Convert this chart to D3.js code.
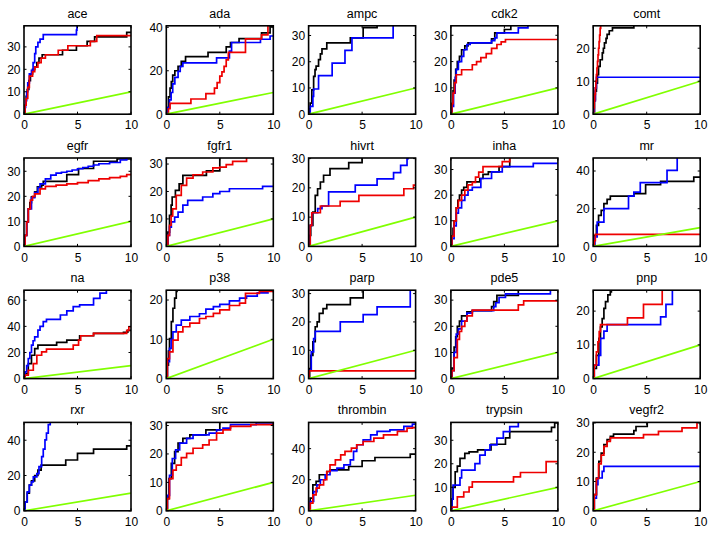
<!DOCTYPE html>
<html><head><meta charset="utf-8">
<script src="https://cdn.jsdelivr.net/npm/d3@7"></script>
<style>
html,body{margin:0;padding:0;background:#fff;}
svg text{font-family:"Liberation Sans",Arial,Helvetica,sans-serif;fill:#000;}
</style></head>
<body><svg id="c" width="714" height="534"></svg>
<script>
// ---- DATA ----
const panelNames = ["ace","ada","ampc","cdk2","comt","egfr","fgfr1","hivrt","inha","mr","na","p38","parp","pde5","pnp","rxr","src","thrombin","trypsin","vegfr2"];
const yMax = [39.4,40.7,33.7,33.6,26.8,35.3,32.2,30.2,34.5,46.9,67.7,22.5,31.2,33.8,26.2,50.1,31.1,56.9,37.6,30.2];
const yTicks = [[0,10,20,30],[0,20,40],[0,10,20,30],[0,10,20,30],[0,10,20],[0,10,20,30],[0,10,20,30],[0,10,20,30],[0,10,20,30],[0,20,40],[0,20,40,60],[0,10,20],[0,10,20,30],[0,10,20,30],[0,10,20],[0,20,40],[0,10,20,30],[0,20,40],[0,10,20,30],[0,10,20,30]];
const xTicks = [0,5,10];
const randomLine = [[0,0],[10,10]];

const ace_k = [[0,0],[0.1,4],[0.2,8],[0.3,11],[0.45,15],[0.6,18],[0.8,20],[1.0,21],[1.2,23],[1.4,25],[1.7,26.5],[3.6,28.5],[4.9,30.5],[5.9,32.5],[6.6,34.5],[9.6,36.5],[10,36.5]];
const ace_b = [[0,0],[0.08,3],[0.15,6],[0.25,10],[0.35,14],[0.5,18],[0.7,19.5],[0.85,23],[1.0,27],[1.1,30],[1.3,32],[1.5,33.5],[1.8,35.5],[4.9,37.5],[4.95,41],[10,41]];
const ace_r = [[0,0],[0.1,4],[0.2,7],[0.35,12],[0.5,17],[0.8,19],[1.0,21],[1.3,23],[1.6,25],[2.0,26.5],[3.2,28.5],[4.1,30.5],[6.2,32.5],[6.8,35],[10,35]];

const ada_k = [[0,0],[0.1,3],[0.2,8],[0.35,12],[0.47,15],[0.6,18],[0.8,20],[1.1,22],[1.4,24.3],[1.8,26.5],[3.9,28.5],[5.6,31],[6.0,33],[6.8,34.8],[8.9,37.4],[9.7,40.5],[10,40.5]];
const ada_b = [[0,0],[0.15,3],[0.3,6.6],[0.45,10],[0.6,14],[0.8,17],[1.1,19.7],[1.3,22],[1.55,23.6],[4.7,25.9],[5.9,29],[6.1,33],[8.8,34.5],[9.7,36],[10,36]];
const ada_r = [[0,0],[0.2,2.5],[0.35,5],[2.3,7],[3.7,9.5],[4.5,12],[4.75,14.5],[5.0,17.5],[5.2,19.5],[5.4,22],[5.6,25],[5.8,28.5],[7.4,34.7],[8.9,36.5],[9.5,41],[10,41]];

const ampc_k = [[0,0],[0.08,2],[0.15,4.2],[0.3,9.3],[0.47,14.4],[0.6,17],[0.7,18.3],[0.93,20.8],[1.1,23],[1.25,24.9],[1.7,27.2],[3.9,29.1],[5.1,33],[6.4,36],[10,36]];
const ampc_b = [[0,0],[0.15,3],[0.4,6.8],[0.47,9.6],[0.93,14.7],[2.2,19.5],[3.4,24.3],[4.05,29.1],[7.9,36],[10,36]];
const ampc_r = [];

const cdk2_k = [[0,0],[0.1,4],[0.2,9],[0.3,13],[0.45,17],[0.6,20],[0.8,22],[1.0,24.5],[1.3,26],[1.6,27.1],[3.8,28.6],[4.1,30.9],[5.0,32.2],[5.6,34],[10,34]];
const cdk2_b = [[0,0],[0.1,3],[0.25,8],[0.4,14],[0.5,17],[0.7,20],[1.0,22],[1.2,24.5],[1.5,26.5],[1.8,27.1],[3.8,28],[4.1,29],[4.3,30.9],[6.3,32.8],[7.2,34],[10,34]];
const cdk2_r = [[0,0],[0.1,4],[0.2,8],[0.35,12],[0.5,15],[1.0,16.9],[2.0,18.8],[2.4,20],[2.8,21.5],[3.3,23],[3.8,25],[4.3,26.5],[4.7,27.5],[5.1,28.4],[10,28.4]];

const comt_k = [[0,0],[0.12,4.4],[0.2,7],[0.3,9.4],[0.4,12],[0.5,14.5],[0.65,16.5],[0.85,18.6],[0.95,20],[1.05,21.6],[1.2,23],[1.3,24.2],[1.5,25.3],[1.8,26.2],[3.8,27.5],[10,27.5]];
const comt_b = [[0,0],[0.1,4],[0.2,8],[0.3,11.2],[10,11.2]];
const comt_r = [[0,0],[0.05,2],[0.1,4],[0.15,6],[0.2,8],[0.25,10],[0.3,12],[0.35,14],[0.4,16],[0.45,18],[0.5,20],[0.55,22],[0.6,24],[0.65,26],[0.7,28],[10,28]];

const egfr_k = [[0,0],[0.1,4.4],[0.25,9.8],[0.4,15],[0.55,17.5],[0.7,19.8],[1.0,21.8],[1.25,23.8],[1.65,24.5],[1.8,26],[4.0,28.7],[5.1,31.1],[6.5,34],[8.7,34.9],[10,34.9]];
const egfr_b = [[0,0],[0.1,4.4],[0.25,9.8],[0.4,15],[0.7,19.5],[1.0,21.5],[1.3,23.5],[1.5,25],[2.0,27],[2.5,28.5],[3.0,29.3],[3.5,29.6],[4.0,30],[4.5,30.5],[5.0,31],[5.5,31.5],[6.0,32],[6.5,32.5],[7.0,33],[8.0,33.5],[9.0,34.5],[9.6,35.5],[10,35.5]];
const egfr_r = [[0,0],[0.1,4.4],[0.25,9.8],[0.4,15],[0.6,18.5],[0.8,20],[1.0,21],[1.5,23],[2.0,24],[3.0,24.5],[4.0,25],[5.0,25.5],[6.0,26.3],[7.0,27],[8.0,27.5],[9.0,28],[9.6,28.7],[10,28.8]];

const fgfr1_k = [[0,0],[0.15,5.2],[0.3,11.3],[0.45,15],[0.55,18],[0.85,20.4],[1.2,22.8],[1.55,25.9],[3.75,27.5],[5.0,33],[10,33]];
const fgfr1_b = [[0,0],[0.15,4],[0.3,7],[0.47,8.9],[0.78,10.7],[1.1,12.5],[1.55,15],[2.0,16.8],[3.4,18],[4.35,19.2],[5.0,20],[5.9,21],[9.0,21.9],[10,21.9]];
const fgfr1_r = [[0,0],[0.15,4],[0.3,7.7],[0.45,11],[0.6,13.7],[0.93,18.6],[1.4,22.2],[1.9,24.9],[2.5,26.1],[3.4,27.1],[4.35,28.6],[5.0,28.9],[5.6,29.8],[6.2,31],[7.5,33],[10,33]];

const hivrt_k = [[0,0],[0.1,3.8],[0.2,7.2],[0.4,11.7],[0.62,17.4],[0.84,19.7],[1.1,22],[1.4,24.3],[2.0,26.6],[3.75,28.6],[5.0,31],[10,31]];
const hivrt_b = [[0,0],[0.15,7.2],[0.3,11.5],[0.85,12.9],[1.25,13.8],[1.87,18.6],[4.36,20.9],[6.4,23.1],[7.94,25.2],[8.6,27.7],[9.2,30],[9.3,31],[10,31]];
const hivrt_r = [[0,0],[0.15,7.2],[0.3,11.5],[1.1,13.8],[2.95,15.4],[4.7,17.4],[8.9,19.7],[9.8,20.9],[10,20.9]];

const inha_k = [[0,0],[0.1,4],[0.2,7],[0.3,10],[0.5,15],[0.65,18],[0.8,20],[1.0,22],[1.2,23],[1.5,25.2],[2.7,26.5],[3.0,28.1],[3.5,29.1],[4.5,31.1],[5.5,35],[10,35]];
const inha_b = [[0,0],[0.1,3],[0.3,8],[0.5,13],[0.7,15],[1.0,18],[1.3,20],[1.6,22],[2.0,23],[2.8,26.5],[3.8,29.1],[4.8,31.1],[7.7,32.4],[10,32.4]];
const inha_r = [[0,0],[0.1,4],[0.3,10],[0.5,15],[0.7,18],[1.0,20],[1.3,22],[1.6,24],[2.0,25],[2.3,27],[2.6,29],[3.0,31.1],[4.8,33.1],[5.5,35],[10,35]];

const mr_k = [[0,0],[0.12,5.8],[0.3,11.2],[0.5,16.5],[0.75,19.1],[1.0,22.7],[1.3,25],[1.6,26.7],[3.8,28],[4.9,32.7],[6.3,34.5],[9.4,36.8],[10,36.8]];
const mr_b = [[0,0],[0.15,5],[0.37,12.9],[1.0,20],[3.3,26.7],[3.8,28.8],[4.4,33.8],[6.9,40.3],[7.85,48],[10,48]];
const mr_r = [[0,0],[0.1,3],[0.2,6.4],[10,6.4]];

const na_k = [[0,0],[0.1,3.8],[0.4,11.5],[0.7,17.9],[1.0,23],[1.3,25.6],[3.05,27.7],[4.0,29.5],[5.2,32.8],[6.5,34.6],[9.3,35.5],[9.7,37],[10,37]];
const na_b = [[0,0],[0.1,5.1],[0.25,10],[0.4,15.4],[0.55,20],[0.7,25.6],[0.85,29],[1.0,32],[1.3,37.2],[1.5,40],[1.8,43.6],[2.1,45.4],[3.4,48.7],[4.0,51.8],[4.6,55.1],[5.2,56.4],[6.5,61.5],[7.1,65.4],[7.7,69],[10,69]];
const na_r = [[0,0],[0.1,2.6],[0.4,6.4],[0.87,11.5],[1.2,17.9],[1.65,20.5],[2.1,22.6],[4.6,25.6],[5.1,29.5],[5.3,32.8],[6.5,34.6],[9.6,37],[9.8,39.7],[10,39.7]];

const p38_k = [[0,0],[0.1,3.4],[0.2,7],[0.3,10.2],[0.47,14.5],[0.62,17.9],[0.78,20.5],[0.93,22.2],[1.0,23],[10,23]];
const p38_b = [[0,0],[0.1,4.3],[0.3,7.7],[0.45,10],[0.62,11.9],[0.93,13.6],[1.4,14.9],[2.2,15.8],[3.1,16.5],[3.7,17.7],[4.4,18.3],[5.0,18.9],[5.9,19.8],[6.85,20.5],[7.5,21],[8.5,21.8],[9.5,22.3],[10,22.3]];
const p38_r = [[0,0],[0.1,5.1],[0.3,6.8],[0.62,9.8],[1.1,11.9],[1.55,13.2],[2.2,14.1],[3.1,15.3],[3.7,15.8],[4.4,16.6],[5.0,17.5],[5.9,18.6],[6.85,19.2],[7.4,21.7],[8.7,22.2],[10,22.5]];

const parp_k = [[0,0],[0.1,3.5],[0.2,8.2],[0.4,13],[0.62,18.3],[0.8,20],[1.0,23],[1.35,24.7],[1.7,26.1],[3.9,28.5],[5.1,32],[10,32]];
const parp_b = [[0,0],[0.05,2.9],[0.25,9.4],[0.47,14.1],[0.62,16.7],[2.96,20],[5.1,22.6],[6.4,25.3],[9.5,32],[10,32]];
const parp_r = [[0,0],[0.05,2.7],[10,2.7]];

const pde5_k = [[0,0],[0.1,4],[0.3,12],[0.45,16],[0.6,20],[0.8,22],[1.0,24],[1.5,25.5],[2.0,26],[3.8,27.5],[4.0,29.4],[4.3,31.8],[6.3,34.5],[10,34.5]];
const pde5_b = [[0,0],[0.1,3],[0.3,10],[0.5,17],[0.7,19],[1.0,22],[1.5,25],[2.0,26],[4.0,27.5],[4.2,29],[4.5,31],[5.1,32.4],[9.3,34.5],[10,34.5]];
const pde5_r = [[0,0],[0.1,3],[0.3,8],[0.6,15],[0.8,18],[1.0,20],[1.3,22],[1.5,24],[2.0,26.2],[6.3,28.2],[6.8,29.7],[10,29.7]];

const pnp_k = [[0,0],[0.05,3],[0.3,6.9],[0.53,11.9],[0.68,15.3],[0.84,17.8],[1.0,20.8],[1.15,22.8],[1.37,24.8],[1.6,25.7],[1.7,27],[10,27]];
const pnp_b = [[0,0],[0.1,4],[0.53,6.9],[0.7,11.9],[1.0,14.1],[1.3,16],[6.3,18.3],[6.8,22],[7.4,27],[10,27]];
const pnp_r = [[0,0],[0.1,4],[0.3,7.9],[0.44,10.9],[0.56,13.9],[0.68,16],[3.2,18],[4.7,22],[6.45,27],[10,27]];

const rxr_k = [[0,0],[0.1,5],[0.3,10],[0.5,14.5],[0.7,17],[1.0,20],[1.3,23],[1.6,25.9],[3.9,28.8],[5.0,32.6],[6.5,34.9],[9.6,36.8],[10,36.8]];
const rxr_b = [[0,0],[0.1,5],[0.3,10.7],[0.5,14.5],[0.7,16.4],[0.87,19.2],[1.2,21.1],[1.4,25],[1.65,30.7],[1.8,35],[1.96,40.2],[2.1,44],[2.27,48.8],[2.45,52],[10,52]];
const rxr_r = [];

const src_k = [[0,0],[0.1,4.3],[0.25,11.3],[0.47,16.7],[0.78,20.8],[1.1,23.8],[1.55,25.5],[2.2,26.7],[3.7,28.5],[5.0,32],[10,32]];
const src_b = [[0,0],[0.1,5.4],[0.3,12.5],[0.56,18.4],[0.87,21.4],[1.25,23.8],[1.9,25.5],[2.5,26.7],[4.0,27.3],[4.7,28.5],[5.3,29.1],[6.0,30.3],[8.4,30.9],[10,30.9]];
const src_r = [[0,0],[0.1,4.3],[0.3,11.3],[0.62,14.3],[0.93,16.1],[1.4,18.7],[1.9,20.2],[2.5,22],[3.4,23.2],[4.0,24.9],[4.7,27.3],[5.3,28.5],[6.0,29.7],[7.9,30.3],[10,30.8]];

const thrombin_k = [[0,0],[0.15,8.2],[0.4,16.7],[0.7,18.9],[1.0,23.2],[1.7,25.3],[2.0,26.4],[3.75,28.5],[5.0,32.2],[6.2,34.3],[9.5,36.5],[10,36.5]];
const thrombin_b = [[0,0],[0.15,6],[0.47,12.4],[0.78,16.7],[1.1,20],[1.55,23.2],[2.0,25.8],[2.65,27.5],[3.3,29.6],[3.9,32.8],[4.2,38.2],[4.5,42.5],[5.1,45.7],[5.8,48.9],[6.4,51.1],[7.6,52.1],[8.9,54.3],[9.7,55.8],[10,55.8]];
const thrombin_r = [[0,0],[0.15,4.9],[0.4,10.3],[0.7,14.6],[1.0,16.7],[1.4,20],[1.7,25.3],[2.0,29.6],[2.5,32.8],[3.0,36],[3.4,38.2],[4.0,40.3],[4.5,42.5],[5.1,44.6],[6.1,46.8],[7.0,48.9],[8.3,51.1],[9.2,53.2],[9.7,53.6],[10,53.6]];

const trypsin_k = [[0,0],[0.1,5],[0.2,10],[0.4,16.6],[0.6,19],[0.85,22.3],[1.3,24.4],[1.7,25.1],[2.5,25.9],[3.75,28.3],[5.1,31],[5.5,33.7],[9.4,35.5],[9.7,37.4],[10,37.4]];
const trypsin_b = [[0,0],[0.1,5],[0.2,10.9],[0.85,14],[1.0,17.3],[2.25,20.1],[2.7,23.7],[3.2,25.9],[3.65,28],[4.3,30.9],[4.9,33.7],[5.5,35.8],[6.3,38],[10,38]];
const trypsin_r = [[0,0],[0.05,1.6],[0.6,5.9],[1.2,8],[1.7,10.1],[2.0,12.3],[5.85,14.4],[6.5,16.3],[8.9,20.9],[10,20.9]];

const vegfr2_k = [[0,0],[0.1,5.5],[0.3,11.2],[0.53,16.9],[0.75,19.7],[1.0,22.6],[1.3,24.3],[1.6,25.4],[1.9,26.2],[3.8,27.4],[4.0,28.8],[5.05,31],[10,31]];
const vegfr2_b = [[0,0],[0.1,4.3],[0.3,8.9],[0.44,11.2],[0.84,13.5],[1.0,15.2],[10,15.2]];
const vegfr2_r = [[0,0],[0.1,5.5],[0.3,11],[0.5,16],[0.75,19],[1.0,22],[1.3,23.7],[1.6,24.9],[4.7,26],[6.1,27.1],[8.3,28.3],[9.7,31],[10,31]];

const seriesColors = {k:"#000000", b:"#0000ff", r:"#ee0000", g:"#80ff00"};

// ---- table built from the arrays ----
const curves = {
  ace:[ace_k,ace_b,ace_r], ada:[ada_k,ada_b,ada_r], ampc:[ampc_k,ampc_b,ampc_r], cdk2:[cdk2_k,cdk2_b,cdk2_r], comt:[comt_k,comt_b,comt_r],
  egfr:[egfr_k,egfr_b,egfr_r], fgfr1:[fgfr1_k,fgfr1_b,fgfr1_r], hivrt:[hivrt_k,hivrt_b,hivrt_r], inha:[inha_k,inha_b,inha_r], mr:[mr_k,mr_b,mr_r],
  na:[na_k,na_b,na_r], p38:[p38_k,p38_b,p38_r], parp:[parp_k,parp_b,parp_r], pde5:[pde5_k,pde5_b,pde5_r], pnp:[pnp_k,pnp_b,pnp_r],
  rxr:[rxr_k,rxr_b,rxr_r], src:[src_k,src_b,src_r], thrombin:[thrombin_k,thrombin_b,thrombin_r], trypsin:[trypsin_k,trypsin_b,trypsin_r], vegfr2:[vegfr2_k,vegfr2_b,vegfr2_r]
};

// ---- LAYOUT ----
const svg = d3.select("#c");
const colLeft = 24, colStep = 142.3, rowTop = 25.8, rowStep = 132.2;
const pw = 107, ph = 88.4;
const tickLen = 2.5;
const lw = 1.7;

panelNames.forEach((name, i) => {
  const col = i % 5, row = Math.floor(i / 5);
  const x0 = colLeft + col * colStep, y0 = rowTop + row * rowStep;
  const g = svg.append("g").attr("transform", `translate(${x0},${y0})`);
  const x = d3.scaleLinear().domain([0, 10]).range([0, pw]);
  const y = d3.scaleLinear().domain([0, yMax[i]]).range([ph, 0]);

  const clipId = "clip" + i;
  g.append("clipPath").attr("id", clipId).append("rect")
    .attr("x", 0).attr("y", 0).attr("width", pw).attr("height", ph);

  const plot = g.append("g").attr("clip-path", `url(#${clipId})`);
  const stepLine = d3.line().x(d => x(d[0])).y(d => y(d[1])).curve(d3.curveStepAfter);
  const straight = d3.line().x(d => x(d[0])).y(d => y(d[1]));

  const [k, b, r] = curves[name];
  const drawn = [[k, "k"], [b, "b"], [r, "r"]];
  drawn.forEach(([data, c]) => {
    if (!data.length) return;
    plot.append("path").attr("d", stepLine(data)).attr("fill", "none")
      .attr("stroke", seriesColors[c]).attr("stroke-width", lw).attr("stroke-linejoin", "miter");
  });
  plot.append("path").attr("d", straight(randomLine)).attr("fill", "none")
    .attr("stroke", seriesColors.g).attr("stroke-width", lw);

  // axes (MATLAB-style inward ticks, box)
  const axB = d3.axisBottom(x).tickValues(xTicks).tickSize(0).tickPadding(5).tickFormat(d3.format("d"));
  const axL = d3.axisLeft(y).tickValues(yTicks[i]).tickSize(0).tickPadding(3.5).tickFormat(d3.format("d"));
  const gx = g.append("g").attr("transform", `translate(0,${ph})`).call(axB);
  const gy = g.append("g").call(axL);
  [gx, gy].forEach(a => {
    a.select(".domain").remove();
    a.selectAll("text").attr("font-size", "12px").attr("font-family", '"Liberation Sans",Arial,sans-serif').attr("fill", "#000");
  });
  gx.selectAll("text").attr("dy", "0.85em");

  // inward ticks on all sides
  xTicks.forEach(t => {
    g.append("line").attr("x1", x(t)).attr("x2", x(t)).attr("y1", ph).attr("y2", ph - tickLen).attr("stroke", "#000");
    g.append("line").attr("x1", x(t)).attr("x2", x(t)).attr("y1", 0).attr("y2", tickLen).attr("stroke", "#000");
  });
  yTicks[i].forEach(t => {
    g.append("line").attr("x1", 0).attr("x2", tickLen).attr("y1", y(t)).attr("y2", y(t)).attr("stroke", "#000");
    g.append("line").attr("x1", pw).attr("x2", pw - tickLen).attr("y1", y(t)).attr("y2", y(t)).attr("stroke", "#000");
  });

  g.append("rect").attr("x", 0).attr("y", 0).attr("width", pw).attr("height", ph)
    .attr("fill", "none").attr("stroke", "#000").attr("stroke-width", 1.6);

  g.append("text").attr("x", pw / 2).attr("y", -8).attr("text-anchor", "middle")
    .attr("font-size", "12.5px").text(name);
});
</script></body></html>
